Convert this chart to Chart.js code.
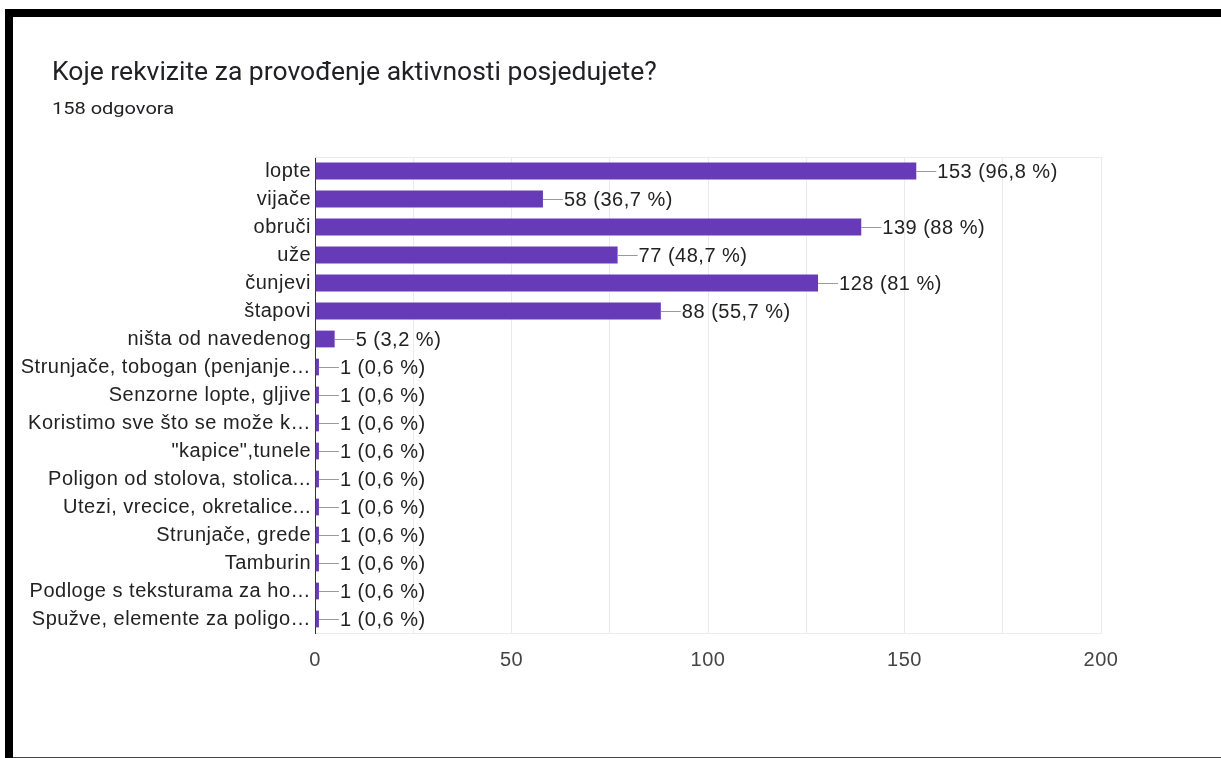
<!DOCTYPE html>
<html>
<head>
<meta charset="utf-8">
<script src="https://cdn.jsdelivr.net/npm/chart.js@4"></script>
<style>
    html, body { margin: 0; padding: 0; background: #fff; }
    #page { position: relative; width: 1221px; height: 758px; overflow: hidden; background: #fff; }
    #topBar { position: absolute; left: 5px; top: 9px; width: 1216px; height: 8px; background: #000; }
    #leftBar { position: absolute; left: 5px; top: 9px; width: 8px; height: 749px; background: #000; }
    #bottomLine { position: absolute; left: 13px; top: 757px; width: 1208px; height: 1px; background: #444; }
    #title { position: absolute; left: 52px; top: 57px; font-family: Roboto, sans-serif; font-size: 25px; color: #202124; white-space: nowrap; transform: scaleX(1.06); transform-origin: left top; }
    #subtitle { position: absolute; left: 52px; top: 99px; font-family: Roboto, sans-serif; font-size: 16px; color: #202124; white-space: nowrap; transform: scaleX(1.25); transform-origin: left top; }
    #chartBox { position: absolute; left: 0; top: 0; width: 1221px; height: 758px; }
</style>
</head>
<body>
<div id="page">
    <div id="chartBox"><canvas id="rekvizitiChart"></canvas></div>
    <div id="topBar"></div>
    <div id="leftBar"></div>
    <div id="bottomLine"></div>
    <div id="title">Koje rekvizite za provođenje aktivnosti posjedujete?</div>
    <div id="subtitle">158 odgovora</div>
</div>
<script>
// Answer options (as shown, truncated the same way)
const categories = [
    'lopte',
    'vijače',
    'obruči',
    'uže',
    'čunjevi',
    'štapovi',
    'ništa od navedenog',
    'Strunjače, tobogan (penjanje…',
    'Senzorne lopte, gljive',
    'Koristimo sve što se može k…',
    '"kapice",tunele',
    'Poligon od stolova, stolica...',
    'Utezi, vrecice, okretalice...',
    'Strunjače, grede',
    'Tamburin',
    'Podloge s teksturama za ho…',
    'Spužve, elemente za poligo…'
];
const counts = [153, 58, 139, 77, 128, 88, 5, 1, 1, 1, 1, 1, 1, 1, 1, 1, 1];
const percents = ['96,8', '36,7', '88', '48,7', '81', '55,7', '3,2', '0,6', '0,6', '0,6', '0,6', '0,6', '0,6', '0,6', '0,6', '0,6', '0,6'];
const xTicks = [0, 50, 100, 150, 200];

const fontFamily = '"Liberation Sans", Arial, sans-serif';
const labelFont = '20px ' + fontFamily;

// Draws the light frame on top and the "n (p %)" labels with a short leader line
const valueLabels = {
    id: 'valueLabels',
    beforeDraw(chart) {
        chart.ctx.letterSpacing = '0.5px';
    },
    beforeDatasetsDraw(chart) {
        const ctx = chart.ctx;
        const area = chart.chartArea;
        ctx.save();
        ctx.strokeStyle = '#ebebeb';
        ctx.lineWidth = 1;
        ctx.beginPath();
        ctx.moveTo(area.left, area.top + 0.5);
        ctx.lineTo(area.right, area.top + 0.5);
        ctx.stroke();
        ctx.restore();
    },
    afterDatasetsDraw(chart) {
        const ctx = chart.ctx;
        const meta = chart.getDatasetMeta(0);
        ctx.save();
        ctx.letterSpacing = '0.5px';
        ctx.font = labelFont;
        ctx.textBaseline = 'middle';
        ctx.textAlign = 'left';
        meta.data.forEach(function(bar, i) {
            const y = Math.round(bar.y) + 0.5;
            const x = bar.x;
            ctx.strokeStyle = '#999';
            ctx.lineWidth = 1;
            ctx.beginPath();
            ctx.moveTo(x, y);
            ctx.lineTo(x + 20, y);
            ctx.stroke();
            ctx.fillStyle = '#222';
            ctx.fillText(counts[i] + ' (' + percents[i] + ' %)', x + 21, bar.y + 1);
        });
        ctx.restore();
    }
};

let ctx = document.getElementById('rekvizitiChart').getContext('2d');
let rekvizitiChart = new Chart(ctx, {
    type: 'bar',
    data: {
        labels: categories,
        datasets: [
            {
                data: counts,
                backgroundColor: '#673ab7',
                borderWidth: 0,
                barPercentage: 0.6,
                categoryPercentage: 1.0
            }
        ]
    },
    options: {
        indexAxis: 'y',
        responsive: true,
        maintainAspectRatio: false,
        animation: false,
        layout: {
            padding: { left: 0, top: 157, right: 120, bottom: 0 }
        },
        scales: {
            x: {
                min: xTicks[0],
                max: xTicks[xTicks.length - 1],
                afterFit: function(scale) { scale.height = 125; },
                grid: {
                    color: '#ebebeb',
                    drawTicks: false
                },
                border: { color: '#ebebeb' },
                ticks: {
                    stepSize: 25,
                    padding: 15,
                    color: '#444',
                    font: { family: fontFamily, size: 20 },
                    callback: function(value) {
                        return xTicks.includes(value) ? String(value) : '';
                    }
                }
            },
            y: {
                afterFit: function(scale) { scale.width = 315; },
                grid: { display: false, drawTicks: false },
                border: { color: '#333', width: 1 },
                ticks: {
                    padding: 4,
                    autoSkip: false,
                    color: '#222',
                    font: { family: fontFamily, size: 20 }
                }
            }
        },
        plugins: {
            legend: { display: false },
            tooltip: { enabled: false }
        }
    },
    plugins: [valueLabels]
});
</script>
</body>
</html>
